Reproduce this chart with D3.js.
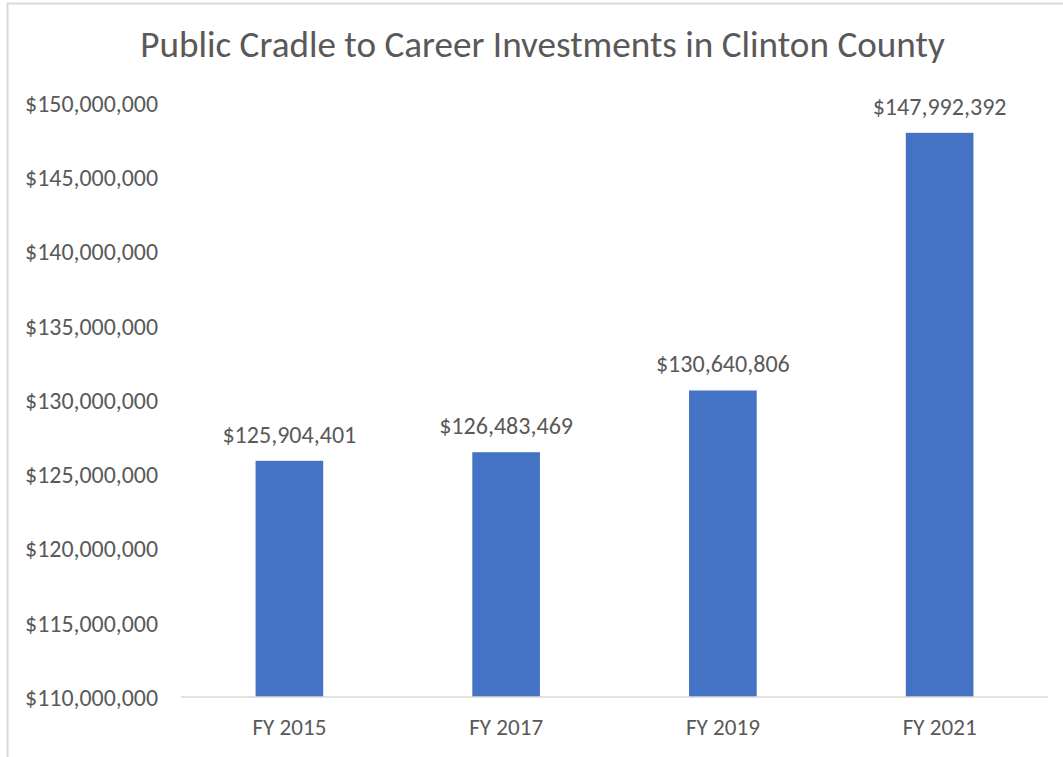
<!DOCTYPE html>
<html>
<head>
<meta charset="utf-8">
<script src="https://cdn.jsdelivr.net/npm/d3@7"></script>
<style>
  html, body { margin: 0; padding: 0; background: #fff; }
  svg { display: block; }
  text { font-family: Carlito, "Open Sans", "Noto Sans", sans-serif; fill: #595959; }
</style>
</head>
<body>
<svg id="chart" width="1063" height="757"></svg>
<script>
const title = "Public Cradle to Career Investments in Clinton County";
const categories = ["FY 2015", "FY 2017", "FY 2019", "FY 2021"];
const values = [125904401, 126483469, 130640806, 147992392];
const yTicks = [110000000, 115000000, 120000000, 125000000, 130000000, 135000000, 140000000, 145000000, 150000000];
const yDomain = [110000000, 150000000];

const svg = d3.select("#chart");
const W = 1063, H = 757;
const plot = { left: 181, right: 1048, top: 103, bottom: 697 };

// chart border (runs off right/bottom edge)
svg.append("rect")
  .attr("x", 7.5).attr("y", 3.5)
  .attr("width", W + 20).attr("height", H + 20)
  .attr("fill", "#fff").attr("stroke", "#D9D9D9").attr("stroke-width", 2);

const money = v => "$" + d3.format(",")(v);

// fit a font size so a sample string has the target width
function fitSize(sample, target, base) {
  const t = svg.append("text").attr("font-size", base).text(sample);
  const w = t.node().getComputedTextLength();
  t.remove();
  return base * target / w;
}
const titleSize = fitSize(title, 805, 30);
const tickSize = fitSize("$150,000,000", 133, 20);
const valSize = fitSize("$125,904,401", 134, 20);
const catSize = fitSize("FY 2015", 74, 20);

const x = d3.scaleBand().domain(categories)
  .range([plot.left, plot.right])
  .paddingInner(0.688).paddingOuter(0.344);
const y = d3.scaleLinear().domain(yDomain).range([plot.bottom, plot.top]);

// title
svg.append("text")
  .attr("x", 542.5).attr("y", 57)
  .attr("text-anchor", "middle")
  .attr("font-size", titleSize)
  .text(title);

// y axis (labels only)
const yAxis = d3.axisLeft(y).tickValues(yTicks).tickFormat(money).tickSize(0).tickPadding(0);
const gy = svg.append("g").attr("transform", `translate(158,0)`).call(yAxis);
gy.select(".domain").remove();
gy.selectAll("text")
  .attr("font-size", tickSize)
  .attr("font-family", null)
  .attr("fill", "#595959")
  .attr("dy", "0.35em");
gy.attr("font-family", null).attr("font-size", null);

// bars
svg.append("g").selectAll("rect")
  .data(values)
  .join("rect")
  .attr("x", (d, i) => x(categories[i]))
  .attr("width", x.bandwidth())
  .attr("y", d => y(d))
  .attr("height", d => y(yDomain[0]) - y(d))
  .attr("fill", "#4472C4");

// x axis line
const xAxis = d3.axisBottom(x).tickSize(0).tickPadding(0);
const gx = svg.append("g").attr("transform", `translate(0,${plot.bottom})`).call(xAxis);
gx.select(".domain").attr("stroke", "#D9D9D9").attr("stroke-width", 1.5)
  .attr("d", `M${plot.left},0H${plot.right}`);
gx.attr("font-family", null).attr("font-size", null);
gx.selectAll("text")
  .attr("font-size", catSize)
  .attr("fill", "#595959")
  .attr("dy", null)
  .attr("y", 38);

// value labels
svg.append("g").selectAll("text")
  .data(values)
  .join("text")
  .attr("x", (d, i) => x(categories[i]) + x.bandwidth() / 2)
  .attr("y", d => y(d) - 18)
  .attr("text-anchor", "middle")
  .attr("font-size", valSize)
  .text(d => money(d));
</script>
</body>
</html>
